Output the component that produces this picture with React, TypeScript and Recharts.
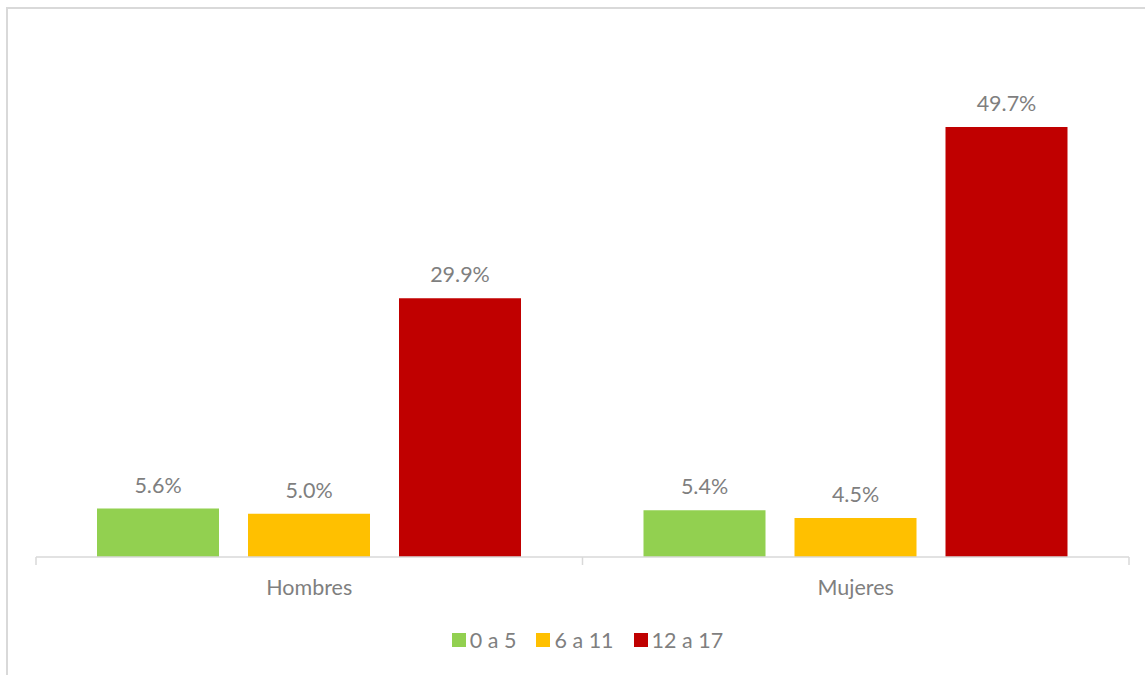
import { BarChart, Bar, XAxis, YAxis, LabelList } from 'recharts';

const categorias = ['Hombres', 'Mujeres'];
const edad0a5 = [5.6, 5.4];
const edad6a11 = [5.0, 4.5];
const edad12a17 = [29.9, 49.7];

const series = [
  { key: 'g1', nombre: '0 a 5', color: '#92d050' },
  { key: 'g2', nombre: '6 a 11', color: '#ffc000' },
  { key: 'g3', nombre: '12 a 17', color: '#c00000' },
];

const datos = categorias.map((c, i) => ({
  categoria: c,
  g1: edad0a5[i],
  g2: edad6a11[i],
  g3: edad12a17[i],
}));

const ANCHO = 1145;
const ALTO = 675;
// el eje X ocupa 30px por defecto, que se suman al margen inferior
const MARGEN = { top: 38, right: 16, left: 36, bottom: 88 };
const TEXTO = '#7f7f7f';
const FUENTE = 'Lato, "Open Sans", sans-serif';
const TAM = 21.5;

const banda = (ANCHO - MARGEN.left - MARGEN.right) / categorias.length;

function TickCategoria(props: any) {
  const { x, y, payload, index } = props;
  const mitad = banda / 2;
  return (
    <g>
      <line x1={x - mitad} y1={y - 8} x2={x - mitad} y2={y} stroke="#d9d9d9" strokeWidth={1.5} />
      {index === categorias.length - 1 && (
        <line x1={x + mitad} y1={y - 8} x2={x + mitad} y2={y} stroke="#d9d9d9" strokeWidth={1.5} />
      )}
      <text x={x} y={y + 30} textAnchor="middle" fill={TEXTO} fontSize={TAM} fontFamily={FUENTE}>
        {payload.value}
      </text>
    </g>
  );
}

function Leyenda() {
  return (
    <div
      style={{
        position: 'absolute',
        left: 15,
        width: ANCHO,
        top: 627,
        display: 'flex',
        justifyContent: 'center',
        alignItems: 'center',
        fontFamily: FUENTE,
        fontSize: TAM,
        color: TEXTO,
      }}
    >
      {series.map((s) => (
        <div key={s.key} style={{ display: 'flex', alignItems: 'center', margin: '0 10px' }}>
          <span style={{ width: 14, height: 14, background: s.color, display: 'inline-block', marginRight: 4 }} />
          <span>{s.nombre}</span>
        </div>
      ))}
    </div>
  );
}

export default function App() {
  return (
    <div style={{ position: 'absolute', left: 0, top: 0, width: ANCHO, height: ALTO, overflow: 'hidden', background: '#fff' }}>
      <div
        style={{
          position: 'absolute',
          left: 6,
          top: 7,
          width: ANCHO + 20,
          height: ALTO + 20,
          border: '2px solid #d9d9d9',
          boxSizing: 'border-box',
        }}
      />
      <div style={{ position: 'absolute', left: 0, top: 0 }}>
        <BarChart
          width={ANCHO}
          height={ALTO}
          data={datos}
          margin={MARGEN}
          barSize={122}
          barGap={29}
        >
          <XAxis
            dataKey="categoria"
            axisLine={{ stroke: '#d9d9d9', strokeWidth: 1.5 }}
            tickLine={false}
            tick={<TickCategoria />}
            interval={0}
          />
          <YAxis hide domain={[0, 60]} />
          {series.map((s) => (
            <Bar key={s.key} dataKey={s.key} name={s.nombre} fill={s.color} isAnimationActive={false}>
              <LabelList
                dataKey={s.key}
                position="top"
                offset={16}
                formatter={(v: any) => `${Number(v).toFixed(1)}%`}
                fill={TEXTO}
                fontSize={TAM}
                fontFamily={FUENTE}
              />
            </Bar>
          ))}
        </BarChart>
      </div>
      <Leyenda />
    </div>
  );
}
